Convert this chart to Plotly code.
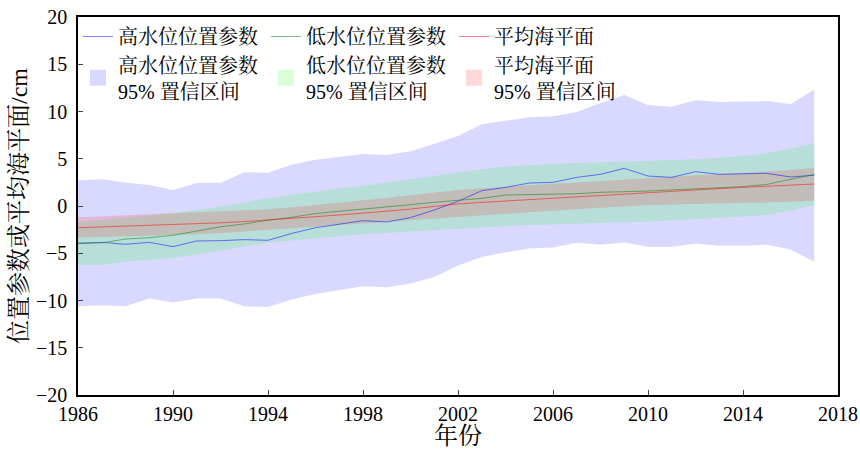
import plotly.graph_objects as go

years = list(range(1986, 2018))

high_water = [-3.95, -3.85, -4.05, -3.85, -4.3, -3.7, -3.67, -3.56, -3.63, -2.9, -2.3, -1.94, -1.55, -1.69, -1.23, -0.42,
              0.5, 1.62, 1.97, 2.43, 2.5, 3.03, 3.35, 3.98, 3.17, 3.03, 3.63, 3.35, 3.4, 3.46, 3.07, 3.25]
high_upper = [2.7, 2.82, 2.5, 2.22, 1.69, 2.43, 2.47, 3.56, 3.53, 4.4, 4.9, 5.2, 5.5, 5.4, 5.8, 6.6,
              7.4, 8.64, 9.0, 9.4, 9.5, 9.95, 10.9, 11.75, 10.7, 10.5, 11.2, 11.0, 11.05, 11.1, 10.8, 12.3]
high_lower = [-10.6, -10.5, -10.6, -9.8, -10.2, -9.8, -9.8, -10.6, -10.7, -9.9, -9.3, -8.9, -8.5, -8.6, -8.2, -7.5,
              -6.3, -5.4, -4.9, -4.5, -4.4, -3.9, -4.1, -3.85, -4.3, -4.3, -4.0, -4.2, -4.2, -4.1, -4.6, -5.9]

low_water = [-3.95, -3.9, -3.5, -3.35, -3.1, -2.65, -2.2, -1.9, -1.5, -1.2, -0.8, -0.56, -0.35, -0.1, 0.14, 0.39,
             0.6, 0.81, 1.16, 1.2, 1.23, 1.3, 1.45, 1.5, 1.58, 1.7, 1.8, 1.93, 2.05, 2.29, 2.86, 3.35]
low_upper = [-1.7, -1.5, -1.25, -1.0, -0.75, -0.4, -0.05, 0.4, 0.85, 1.2, 1.55, 1.85, 2.15, 2.5, 2.85, 3.2,
             3.6, 3.9, 4.2, 4.35, 4.45, 4.55, 4.62, 4.7, 4.76, 4.85, 4.95, 5.1, 5.3, 5.6, 6.1, 6.6]
low_lower = [-6.25, -6.25, -5.9, -5.7, -5.5, -5.1, -4.7, -4.3, -3.9, -3.65, -3.4, -3.2, -3.0, -2.85, -2.7, -2.55,
             -2.45, -2.3, -2.1, -2.0, -1.95, -1.85, -1.8, -1.72, -1.66, -1.55, -1.4, -1.25, -1.1, -0.95, -0.5, 0.1]

msl = [-2.3, -2.22, -2.15, -2.07, -2.0, -1.9, -1.78, -1.65, -1.5, -1.32, -1.13, -0.95, -0.78, -0.55, -0.32, -0.05,
       0.22, 0.38, 0.53, 0.67, 0.81, 0.97, 1.13, 1.29, 1.45, 1.58, 1.71, 1.84, 1.97, 2.09, 2.21, 2.33]
msl_upper = [-1.2, -1.1, -1.0, -0.9, -0.8, -0.7, -0.6, -0.48, -0.35, -0.12, 0.1, 0.35, 0.6, 0.88, 1.15, 1.42,
             1.7, 1.88, 2.05, 2.2, 2.35, 2.5, 2.65, 2.8, 2.95, 3.1, 3.25, 3.38, 3.5, 3.65, 3.8, 4.05]
msl_lower = [-3.35, -3.28, -3.2, -3.15, -3.1, -2.98, -2.85, -2.7, -2.55, -2.38, -2.2, -2.02, -1.85, -1.65, -1.45, -1.3,
             -1.13, -0.96, -0.8, -0.65, -0.5, -0.35, -0.2, -0.05, 0.1, 0.15, 0.2, 0.25, 0.3, 0.38, 0.45, 0.56]

names = ["高水位位置参数", "低水位位置参数", "平均海平面"]
band_names = [n + "<br>95% 置信区间" for n in names]

FONT = "Liberation Serif, Times New Roman, Noto Serif CJK SC, Noto Sans CJK SC, serif"

fig = go.Figure()

bands = [
    (high_lower, high_upper, "rgba(0,0,255,0.15)", band_names[0]),
    (low_lower, low_upper, "rgba(0,255,0,0.15)", band_names[1]),
    (msl_lower, msl_upper, "rgba(255,0,0,0.15)", band_names[2]),
]
for i, (lo, up, col, nm) in enumerate(bands):
    fig.add_trace(go.Scatter(x=years, y=lo, mode="lines", line=dict(width=0, color=col),
                             showlegend=False, hoverinfo="skip"))
    fig.add_trace(go.Scatter(x=years, y=up, mode="lines", line=dict(width=0, color=col),
                             fill="tonexty", fillcolor=col, showlegend=False, hoverinfo="skip"))

lines = [
    (high_water, "rgba(0,0,255,0.5)", names[0]),
    (low_water, "rgba(0,128,0,0.5)", names[1]),
    (msl, "rgba(255,0,0,0.5)", names[2]),
]
for i, (vals, col, nm) in enumerate(lines):
    fig.add_trace(go.Scatter(x=years, y=vals, mode="lines", line=dict(width=1, color=col),
                             name=nm, legend="legend", legendrank=1 + i))

# legend swatches for the confidence bands
for i, (lo, up, col, nm) in enumerate(bands):
    fig.add_trace(go.Scatter(x=[None], y=[None], mode="markers",
                             marker=dict(symbol="square", size=22, color=col, line=dict(width=0)),
                             name=nm, legend="legend2", legendrank=10 + i))

fig.update_layout(
    width=860, height=449,
    margin=dict(l=78, r=22, t=17, b=54, autoexpand=False),
    paper_bgcolor="white", plot_bgcolor="white",
    font=dict(family=FONT, size=20, color="black"),
    legend=dict(orientation="h", x=0.0, xanchor="left", y=1.0, yanchor="top",
                entrywidth=143, entrywidthmode="pixels", bgcolor="rgba(0,0,0,0)",
                font=dict(size=20), itemwidth=30, traceorder="normal"),
    legend2=dict(orientation="h", x=0.0, xanchor="left", y=0.925, yanchor="top",
                 entrywidth=143, entrywidthmode="pixels", bgcolor="rgba(0,0,0,0)",
                 font=dict(size=20), itemwidth=30, traceorder="normal"),
    xaxis=dict(range=[1986, 2018], tick0=1986, dtick=4, ticks="inside", ticklen=5,
               showline=True, linecolor="black", linewidth=1.5, mirror=True,
               showgrid=False, zeroline=False, automargin=False,
               title=dict(text="年份", standoff=1), tickfont=dict(size=20)),
    yaxis=dict(range=[-20, 20], dtick=5, ticks="inside", ticklen=5,
               showline=True, linecolor="black", linewidth=1.5, mirror=True,
               showgrid=False, zeroline=False, automargin=False, ticklabelstandoff=5,
               title=dict(text="位置参数或平均海平面/cm", standoff=2), tickfont=dict(size=20)),
)

fig.write_html("out.html", config={"displayModeBar": False},
               post_script="document.body.style.margin='0px';")
